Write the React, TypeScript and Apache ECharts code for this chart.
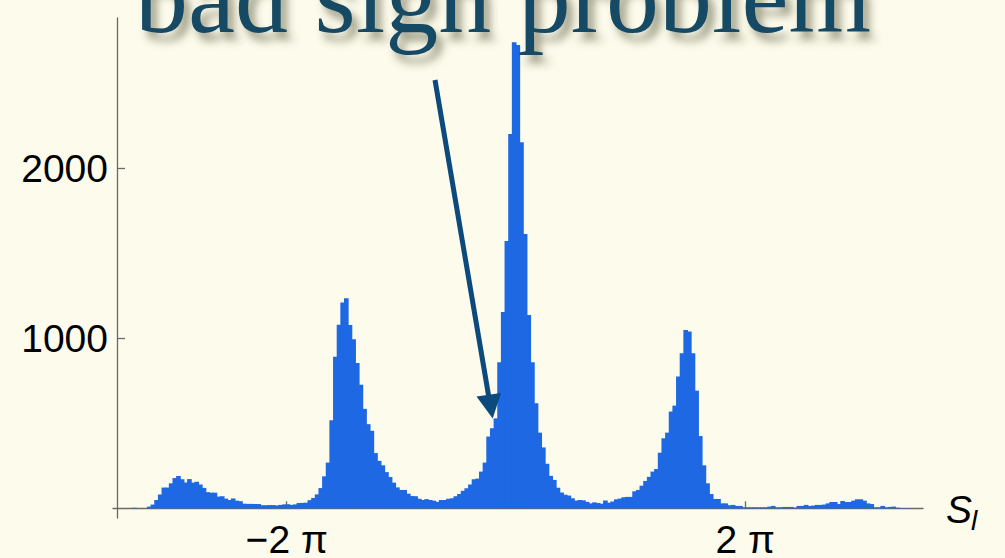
import React, { useEffect, useRef } from "react";
import * as echarts from "echarts";

// Histogram of the sampled action S_I: bins of width 0.1 starting at -10.5
const binStart = -10.5;
const binWidth = 0.1;
const counts = [
  3, 0, 0, 0,
  10, 22, 49, 81, 122, 122, 147, 178, 190, 171,
  152, 172, 151, 156, 140, 120, 95, 92, 92, 69,
  71, 57, 49, 58, 45, 42, 27, 26, 26, 25,
  25, 18, 18, 19, 19, 17, 20, 23, 24, 20,
  23, 31, 32, 33, 48, 61, 82, 119, 188, 269,
  518, 892, 1080, 1210, 1235, 1078, 994, 855, 727, 585,
  495, 456, 325, 279, 253, 213, 184, 151, 123, 108,
  108, 86, 72, 71, 56, 49, 54, 49, 45, 38,
  49, 49, 56, 59, 71, 84, 103, 118, 140, 171,
  175, 216, 269, 422, 471, 529, 859, 1155, 1573, 2202,
  2741, 2725, 2153, 1614, 1137, 859, 618, 445, 358, 262,
  191, 167, 121, 93, 80, 75, 59, 45, 49, 47,
  38, 29, 35, 31, 27, 46, 33, 40, 53, 57,
  65, 67, 67, 100, 108, 133, 161, 185, 216, 231,
  327, 412, 445, 569, 604, 775, 912, 1049, 1040, 912,
  692, 425, 253, 147, 84, 55, 55, 29, 29, 18,
  20, 14, 14, 6, 6, 6, 6, 6, 6, 6,
  10, 14, 6, 6, 8, 8, 8, 4, 14, 14,
  20, 14, 16, 20, 20, 22, 29, 37, 37, 25,
  43, 37, 37, 45, 53, 53, 45, 29, 25, 6,
  6, 14, 6, 8, 10, 4, 2, 2,
];

const xTickValues = [-2 * Math.PI, 2 * Math.PI];
const xTickLabels = ["\u22122 \u03c0", "2 \u03c0"];
const yTickValues = [1000, 2000];
const titleText = "bad sign problem";

const barColor = "#1e68e4";
const axisColor = "#6a6a6a";
const labelFont = "Liberation Sans, Arial, Helvetica, sans-serif";

export default function App() {
  const ref = useRef<HTMLDivElement>(null);

  useEffect(() => {
    const chart = echarts.init(ref.current!, null, { renderer: "svg" });

    const bins = counts.map((c, i) => [
      binStart + i * binWidth,
      binStart + (i + 1) * binWidth,
      c,
    ]);

    chart.setOption({
      animation: false,
      backgroundColor: "#fcfbec",
      grid: {
        left: 113,
        right: 82,
        top: 18,
        bottom: 40,
        outerBoundsMode: "none",
        containLabel: false,
      },
      xAxis: {
        type: "value",
        min: -11.044,
        max: 11.154,
        splitLine: { show: false },
        axisLine: {
          show: true,
          onZero: true,
          lineStyle: { color: axisColor, width: 1.3 },
        },
        axisTick: {
          show: true,
          inside: true,
          length: 7,
          customValues: xTickValues,
          lineStyle: { color: axisColor, width: 1.3 },
        },
        axisLabel: {
          customValues: xTickValues,
          margin: 2,
          color: "#000",
          fontSize: 39,
          fontFamily: labelFont,
          formatter: (v: number) => {
            const k = xTickValues.findIndex((t) => Math.abs(t - v) < 1e-6);
            return k >= 0 ? xTickLabels[k] : "";
          },
        },
      },
      yAxis: {
        type: "value",
        min: -57,
        max: 2884,
        offset: -4,
        splitLine: { show: false },
        axisLine: {
          show: true,
          onZero: false,
          lineStyle: { color: axisColor, width: 1.3 },
        },
        axisTick: {
          show: true,
          inside: true,
          length: 8,
          customValues: yTickValues,
          lineStyle: { color: axisColor, width: 1.3 },
        },
        axisLabel: {
          customValues: yTickValues,
          margin: 9,
          color: "#000",
          fontSize: 39,
          fontFamily: labelFont,
          formatter: (v: number) => String(Math.round(v)),
        },
      },
      series: [
        {
          type: "custom",
          data: bins,
          encode: { x: [0, 1], y: 2 },
          renderItem: (params: any, api: any) => {
            const top = api.coord([api.value(0), api.value(2)]);
            const base = api.coord([api.value(1), 0]);
            const h = base[1] - top[1];
            // slight horizontal overlap so neighbouring bins join without seams
            return {
              type: "rect",
              shape: {
                x: top[0] - 0.5,
                y: top[1],
                width: base[0] - top[0] + 1,
                height: h,
              },
              style: { fill: barColor },
            };
          },
        },
      ],
      graphic: [
        {
          type: "text",
          x: 135,
          y: -4,
          z: 10,
          style: {
            text: titleText,
            font: "106px 'Liberation Serif', 'Times New Roman', serif",
            fill: "#154a63",
            textVerticalAlign: "middle",
            textShadowColor: "rgba(70,70,40,0.55)",
            textShadowBlur: 8,
            textShadowOffsetX: 6,
            textShadowOffsetY: 8,
          },
        },
        {
          type: "line",
          z: 10,
          shape: { x1: 435, y1: 80, x2: 489, y2: 398 },
          style: { stroke: "#0c4a7e", lineWidth: 5 },
        },
        {
          type: "polygon",
          z: 10,
          shape: {
            points: [
              [476.5, 396.5],
              [501, 393],
              [492.7, 418.5],
            ],
          },
          style: { fill: "#0c4a7e" },
        },
        {
          type: "text",
          x: 946,
          y: 509,
          z: 10,
          style: {
            text: "S",
            font: `italic 39px ${labelFont}`,
            fill: "#000",
            textVerticalAlign: "middle",
          },
        },
        {
          type: "text",
          x: 971,
          y: 520,
          z: 10,
          style: {
            text: "l",
            font: `italic 28px ${labelFont}`,
            fill: "#000",
            textVerticalAlign: "middle",
          },
        },
      ],
    });

    return () => chart.dispose();
  }, []);

  return (
    <div
      ref={ref}
      style={{ position: "absolute", left: 0, top: 0, width: 1005, height: 558 }}
    />
  );
}
